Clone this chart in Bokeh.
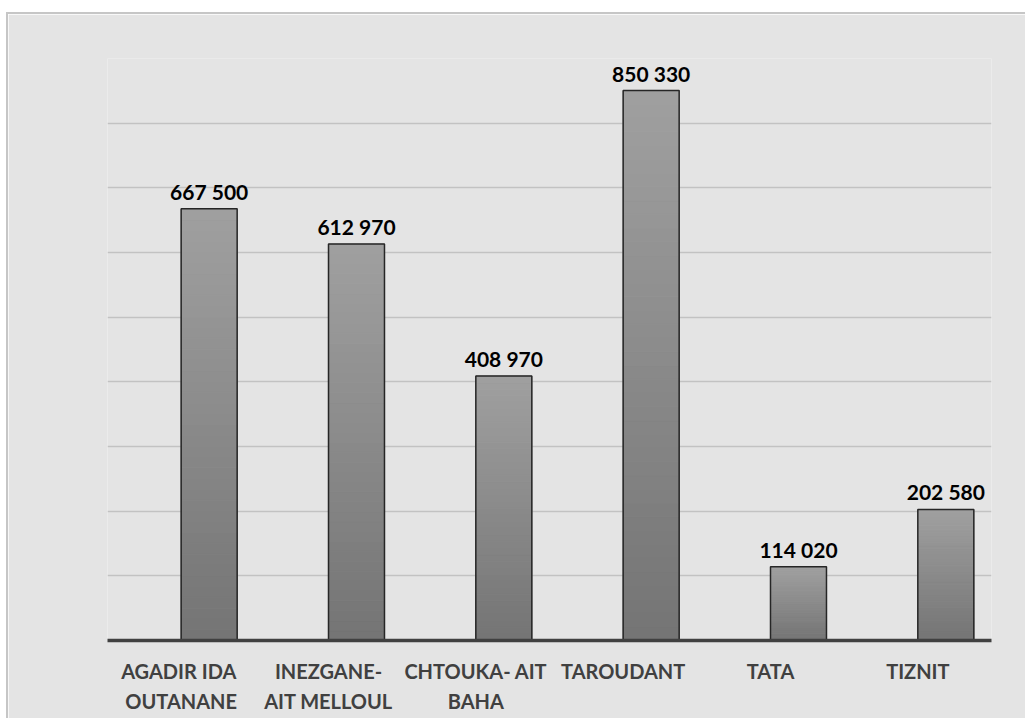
from bokeh.plotting import figure
from bokeh.models import FactorRange, Range1d, FixedTicker, ColumnDataSource
from bokeh.transform import dodge
from bokeh.embed import file_html
from bokeh.resources import INLINE
from bokeh.core.properties import value

categories = ["AGADIR  IDA\nOUTANANE", "INEZGANE-\nAIT MELLOUL", "CHTOUKA- AIT\nBAHA",
              "TAROUDANT", "TATA", "TIZNIT"]
population = [667500, 612970, 408970, 850330, 114020, 202580]
y_ticks = [0, 100000, 200000, 300000, 400000, 500000, 600000, 700000, 800000, 900000]

BG = "#e4e4e4"
FONT = "Lato"

p = figure(x_range=FactorRange(*categories, range_padding=0), y_range=Range1d(0, 900000),
           width=1019, height=706, output_backend="svg", toolbar_location=None,
           min_border_left=99, min_border_right=36, min_border_top=44, min_border_bottom=80)
p.styles = {"margin-top": "12px", "margin-left": "6px",
            "border-top": "2px solid #c6c6c6", "border-left": "2px solid #c6c6c6"}
p.background_fill_color = BG
p.border_fill_color = BG
p.outline_line_color = None

# gradient bars (light top, dark bottom) drawn as thin slices of each bar
N = 40
dark = (0x74, 0x74, 0x74)
light = (0xa0, 0xa0, 0xa0)
sc, sb, st, scol = [], [], [], []
for c, v in zip(categories, population):
    for k in range(N):
        t = (k + 0.5) / N
        col = tuple(int(round(dark[i] + (light[i] - dark[i]) * t)) for i in range(3))
        sc.append(c)
        sb.append(v * k / N)
        st.append(v * (k + 1) / N)
        scol.append("#%02x%02x%02x" % col)
slices = ColumnDataSource(dict(cat=sc, bottom=sb, top=st, color=scol))
p.vbar(x=dodge("cat", 0.19, range=p.x_range), width=0.38, bottom="bottom", top="top",
       fill_color="color", line_color="color", line_width=1, source=slices)

src = ColumnDataSource(dict(cat=categories, value=population,
                            label=[f"{v:,}".replace(",", " ") for v in population]))
p.vbar(x=dodge("cat", 0.19, range=p.x_range), width=0.38, bottom=0, top="value",
       fill_color=None, line_color="#262626", line_width=1.5, source=src)

p.text(x=dodge("cat", 0.19, range=p.x_range), y="value", text="label", source=src,
       text_align="center", text_baseline="bottom", y_offset=-5,
       text_font=value(FONT), text_font_style="bold", text_font_size="21px", text_color="#000000")

p.yaxis.visible = False
p.xgrid.visible = False
p.ygrid.ticker = FixedTicker(ticks=y_ticks)
p.ygrid.grid_line_color = "#c2c2c2"
p.ygrid.grid_line_width = 1.5

ax = p.xaxis[0]
ax.axis_line_color = "#404040"
ax.axis_line_width = 3.5
ax.major_tick_line_color = None
ax.minor_tick_line_color = None
ax.major_label_text_font = FONT
ax.major_label_text_font_style = "bold"
ax.major_label_text_font_size = "20px"
ax.major_label_text_color = "#404040"
ax.major_label_standoff = 12
ax.major_label_text_line_height = 1.25

open("out.html", "w").write(file_html(p, INLINE))
